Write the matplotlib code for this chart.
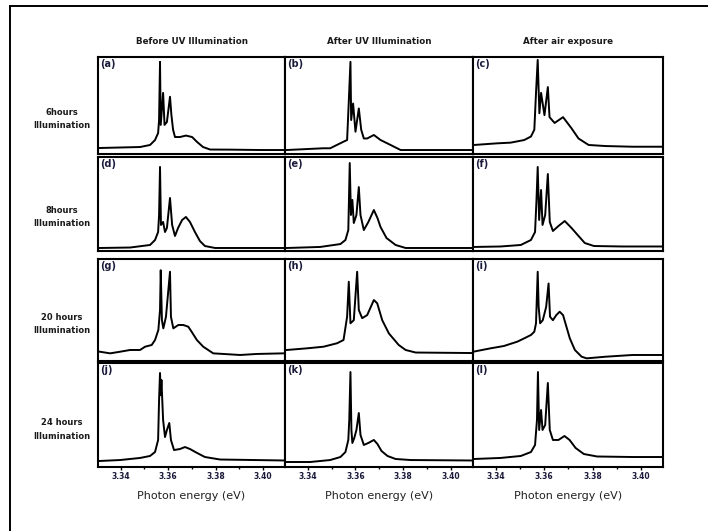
import matplotlib
matplotlib.use("Agg")
import matplotlib.pyplot as plt
from matplotlib.lines import Line2D
from matplotlib.ticker import MultipleLocator

# photon energy (eV) and intensity (a.u.)
a_x = [3.3313, 3.3398, 3.3482, 3.3524, 3.3545, 3.3558, 3.3562, 3.3566, 3.3569, 3.3579, 3.3585,
       3.3595, 3.3608, 3.3614, 3.3621, 3.3629, 3.3650, 3.3675, 3.3701, 3.3722, 3.3747, 3.3777,
       3.3861, 3.3987, 3.4092]
a_y = [0.062, 0.067, 0.072, 0.093, 0.144, 0.216, 0.35, 0.95, 0.30, 0.63, 0.30,
       0.33, 0.59, 0.40, 0.25, 0.175, 0.175, 0.19, 0.175, 0.124, 0.072, 0.046,
       0.045, 0.041, 0.041]

b_x = [3.3312, 3.3465, 3.3494, 3.3550, 3.3565, 3.3572, 3.3579, 3.3582, 3.3590, 3.3600, 3.3614,
       3.3624, 3.3635, 3.3649, 3.3677, 3.3705, 3.3747, 3.3789, 3.4092]
b_y = [0.041, 0.059, 0.059, 0.127, 0.144, 0.54, 0.95, 0.35, 0.52, 0.23, 0.47,
       0.25, 0.16, 0.16, 0.196, 0.144, 0.093, 0.041, 0.041]

c_x = [3.3309, 3.3405, 3.3461, 3.3517, 3.3545, 3.3559, 3.3566, 3.3573, 3.3580, 3.3587, 3.3601,
       3.3615, 3.3622, 3.3643, 3.3678, 3.3713, 3.3742, 3.3784, 3.3854, 3.3966, 3.4092]
c_y = [0.093, 0.11, 0.117, 0.144, 0.18, 0.25, 0.63, 0.97, 0.42, 0.63, 0.40,
       0.69, 0.38, 0.32, 0.38, 0.265, 0.16, 0.093, 0.082, 0.075, 0.075]

d_x = [3.3313, 3.3440, 3.3524, 3.3545, 3.3558, 3.3562, 3.3566, 3.3570, 3.3579, 3.3587, 3.3595,
       3.3608, 3.3617, 3.3629, 3.3642, 3.3659, 3.3675, 3.3692, 3.3713, 3.3734, 3.3755, 3.3798,
       3.4092]
d_y = [0.032, 0.037, 0.064, 0.117, 0.202, 0.383, 0.894, 0.277, 0.309, 0.202, 0.245,
       0.564, 0.277, 0.16, 0.245, 0.33, 0.362, 0.309, 0.202, 0.106, 0.053, 0.032,
       0.032]

e_x = [3.3313, 3.3452, 3.3537, 3.3558, 3.3570, 3.3576, 3.3581, 3.3587, 3.3593, 3.3604, 3.3614,
       3.3621, 3.3635, 3.3654, 3.3677, 3.3692, 3.3705, 3.3730, 3.3768, 3.3810, 3.4092]
e_y = [0.032, 0.043, 0.074, 0.117, 0.223, 0.936, 0.383, 0.543, 0.298, 0.383, 0.68,
       0.383, 0.223, 0.309, 0.436, 0.351, 0.255, 0.138, 0.064, 0.032, 0.032]

f_x = [3.3309, 3.3419, 3.3503, 3.3545, 3.3562, 3.3568, 3.3573, 3.3579, 3.3587, 3.3593, 3.3604,
       3.3615, 3.3623, 3.3636, 3.3659, 3.3685, 3.3713, 3.3742, 3.3768, 3.3806, 3.3924, 3.4092]
f_y = [0.043, 0.048, 0.064, 0.117, 0.202, 0.543, 0.894, 0.33, 0.649, 0.277, 0.383,
       0.819, 0.309, 0.213, 0.266, 0.319, 0.245, 0.16, 0.085, 0.053, 0.048, 0.048]

g_x = [3.3313, 3.3356, 3.3398, 3.3440, 3.3482, 3.3503, 3.3531, 3.3545, 3.3559, 3.3566, 3.3569,
       3.3574, 3.3580, 3.3591, 3.3608, 3.3612, 3.3622, 3.3643, 3.3664, 3.3685, 3.3699, 3.3721,
       3.3748, 3.3790, 3.3833, 3.3903, 3.3973, 3.4085]
g_y = [0.091, 0.075, 0.091, 0.108, 0.108, 0.14, 0.157, 0.206, 0.304, 0.5, 0.89,
       0.40, 0.32, 0.434, 0.875, 0.434, 0.32, 0.353, 0.353, 0.336, 0.287, 0.206,
       0.14, 0.075, 0.069, 0.059, 0.069, 0.075]

h_x = [3.3312, 3.3396, 3.3466, 3.3523, 3.3550, 3.3565, 3.3572, 3.3579, 3.3593, 3.3607, 3.3614,
       3.3628, 3.3649, 3.3677, 3.3691, 3.3712, 3.3740, 3.3781, 3.3810, 3.3852, 3.4092]
h_y = [0.108, 0.124, 0.14, 0.174, 0.206, 0.434, 0.777, 0.37, 0.40, 0.875, 0.5,
       0.42, 0.45, 0.598, 0.566, 0.40, 0.27, 0.157, 0.108, 0.083, 0.078]

i_x = [3.3306, 3.3377, 3.3433, 3.3489, 3.3517, 3.3545, 3.3559, 3.3566, 3.3573, 3.3577, 3.3583,
       3.3594, 3.3608, 3.3618, 3.3624, 3.3636, 3.3650, 3.3664, 3.3678, 3.3692, 3.3706, 3.3727,
       3.3755, 3.3776, 3.3854, 3.3966, 3.4092]
i_y = [0.091, 0.124, 0.147, 0.19, 0.222, 0.255, 0.287, 0.37, 0.875, 0.53, 0.37,
       0.40, 0.53, 0.76, 0.434, 0.40, 0.45, 0.483, 0.45, 0.336, 0.222, 0.108,
       0.042, 0.026, 0.042, 0.059, 0.059]

j_x = [3.3313, 3.3398, 3.3482, 3.3524, 3.3545, 3.3558, 3.3562, 3.3566, 3.3569, 3.3572, 3.3579,
       3.3587, 3.3595, 3.3605, 3.3612, 3.3625, 3.3650, 3.3671, 3.3692, 3.3722, 3.3755, 3.3819,
       3.4092]
j_y = [0.058, 0.067, 0.087, 0.106, 0.144, 0.26, 0.644, 0.904, 0.69, 0.837, 0.452,
       0.288, 0.356, 0.423, 0.26, 0.163, 0.173, 0.192, 0.173, 0.135, 0.096, 0.072,
       0.0625]

k_x = [3.3313, 3.3410, 3.3494, 3.3537, 3.3558, 3.3570, 3.3574, 3.3579, 3.3583, 3.3587, 3.3595,
       3.3604, 3.3614, 3.3621, 3.3635, 3.3654, 3.3677, 3.3692, 3.3709, 3.3734, 3.3768, 3.3831,
       3.4092]
k_y = [0.048, 0.048, 0.067, 0.096, 0.144, 0.26, 0.452, 0.913, 0.356, 0.231, 0.279,
       0.356, 0.519, 0.308, 0.212, 0.231, 0.26, 0.221, 0.154, 0.106, 0.077, 0.067,
       0.0625]

l_x = [3.3309, 3.3419, 3.3503, 3.3545, 3.3562, 3.3570, 3.3574, 3.3579, 3.3587, 3.3593, 3.3604,
       3.3615, 3.3623, 3.3636, 3.3659, 3.3684, 3.3705, 3.3730, 3.3764, 3.3819, 3.3966, 3.4092]
l_y = [0.077, 0.087, 0.106, 0.144, 0.212, 0.452, 0.913, 0.356, 0.548, 0.356, 0.404,
       0.808, 0.356, 0.26, 0.26, 0.298, 0.26, 0.183, 0.125, 0.101, 0.096, 0.096]

col_titles = ["Before UV Illumination", "After UV Illumination", "After air exposure"]
row_titles = ["6hours\nIllumination", "8hours\nIllumination",
              "20 hours\nIllumination", "24 hours\nIllumination"]
panel_tags = ["(a)", "(b)", "(c)", "(d)", "(e)", "(f)",
              "(g)", "(h)", "(i)", "(j)", "(k)", "(l)"]
xticks = [3.34, 3.36, 3.38, 3.40]
xlim = (3.3305, 3.4092)

curves = [(a_x, a_y), (b_x, b_y), (c_x, c_y),
          (d_x, d_y), (e_x, e_y), (f_x, f_y),
          (g_x, g_y), (h_x, h_y), (i_x, i_y),
          (j_x, j_y), (k_x, k_y), (l_x, l_y)]

W, H = 708, 531
fig = plt.figure(figsize=(W / 100, H / 100), dpi=100)

# panel edges in pixels
cols = [(98, 285), (285, 473), (473, 663)]
rows = [(57, 154), (157, 251), (259, 361), (363, 467)]

# outer frame (left and top edges)
fig.add_artist(Line2D([10 / W, 10 / W], [0, 1 - 6 / H], transform=fig.transFigure,
                      color="black", lw=1.4))
fig.add_artist(Line2D([10 / W, 1], [1 - 6 / H, 1 - 6 / H], transform=fig.transFigure,
                      color="black", lw=1.4))

for r, (y0, y1) in enumerate(rows):
    for c, (x0, x1) in enumerate(cols):
        n = r * 3 + c
        ax = fig.add_axes([x0 / W, 1 - y1 / H, (x1 - x0) / W, (y1 - y0) / H])
        xs, ys = curves[n]
        ax.plot(xs, ys, color="black", lw=1.4, solid_joinstyle="round")
        ax.set_xlim(*xlim)
        ax.set_ylim(0, 1)
        ax.set_yticks([])
        for s in ax.spines.values():
            s.set_linewidth(1.5)
        ax.text(0.012, 0.98, panel_tags[n], transform=ax.transAxes, ha="left", va="top",
                fontsize=7, fontweight="bold", color="#1a1a3a")
        if r == 3:
            ax.set_xticks(xticks)
            ax.xaxis.set_minor_locator(MultipleLocator(0.01))
            ax.set_xticklabels([f"{t:.2f}" for t in xticks], fontsize=5.5,
                               fontweight="bold", color="#1a1a3a")
            ax.tick_params(axis="x", which="major", length=2.5, width=1, pad=1)
            ax.tick_params(axis="x", which="minor", length=1.5, width=1)
            ax.set_xlabel("Photon energy (eV)", fontsize=8, color="#222222", labelpad=7)
        else:
            ax.set_xticks([])
        if r == 0:
            ax.set_title(col_titles[c], fontsize=6.3, fontweight="bold", pad=9,
                         color="#1a1a1a")
        if c == 0:
            ax.text(-0.195, 0.36, row_titles[r], transform=ax.transAxes, ha="center",
                    va="center", fontsize=6, fontweight="bold", linespacing=1.6,
                    color="#1a1a1a")

fig.savefig("out.png", dpi=100)
